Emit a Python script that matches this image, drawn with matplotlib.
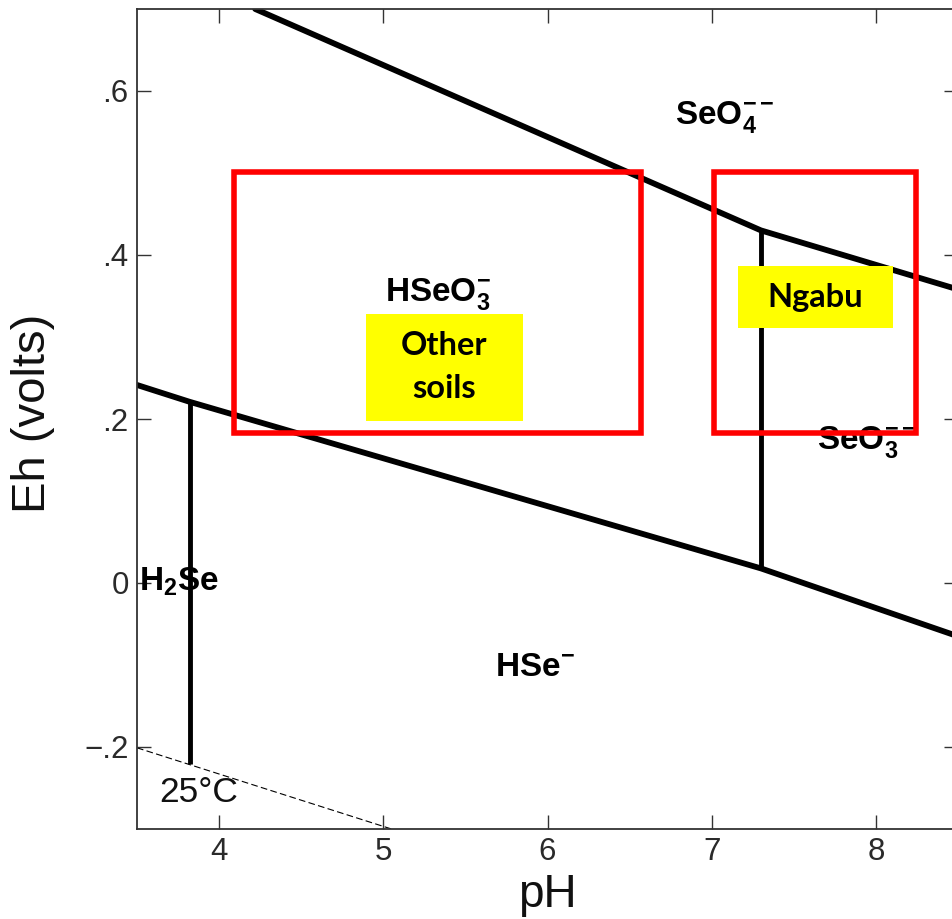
import matplotlib
matplotlib.use("Agg")
import matplotlib.pyplot as plt
from matplotlib.patches import Rectangle

plt.rcParams['font.family'] = ['Liberation Sans', 'DejaVu Sans']
plt.rcParams['mathtext.fontset'] = 'custom'
plt.rcParams['mathtext.rm'] = 'Liberation Sans'
plt.rcParams['mathtext.bf'] = 'Liberation Sans:bold'
plt.rcParams['mathtext.it'] = 'Liberation Sans:italic'

# Stability-field boundaries (pH, Eh in volts)
upper_ph = [4.22, 7.30, 8.50]
upper_eh = [0.700, 0.430, 0.358]
lower_ph = [3.50, 3.82, 7.30, 8.50]
lower_eh = [0.2415, 0.221, 0.0178, -0.065]
h2se_ph = [3.82, 3.82]
h2se_eh = [0.221, -0.2205]
seo3_ph = [7.30, 7.30]
seo3_eh = [0.430, 0.0178]
water_ph = [3.50, 5.05]
water_eh = [-0.201, -0.300]

# Species labels: text, pH, Eh (baseline-left anchor)
species = [
    (r'$\mathbf{SeO_4^{--}}$', 6.775, 0.5597),
    (r'$\mathbf{HSeO_3^{-}}$', 5.009, 0.3444),
    (r'$\mathbf{SeO_3^{--}}$', 7.639, 0.163),
    (r'$\mathbf{H_2Se}$', 3.51, -0.0088),
    (r'$\mathbf{HSe^{-}}$', 5.679, -0.114),
]

# Sampled ranges (pH min, pH max, Eh min, Eh max)
ranges = [
    (4.093, 6.568, 0.1835, 0.501),
    (7.012, 8.247, 0.1835, 0.501),
]
# Highlighted site labels (text, pH min, pH max, Eh min, Eh max)
sites = [
    ("Other\nsoils", 4.894, 5.849, 0.198, 0.3286),
    ("Ngabu", 7.158, 8.107, 0.3105, 0.3867),
]

xticks = [4, 5, 6, 7, 8]
xticklabels = ['4', '5', '6', '7', '8']
yticks = [-0.2, 0.0, 0.2, 0.4, 0.6]
yticklabels = ['\u2212.2', '0', '.2', '.4', '.6']

fig = plt.figure(figsize=(9.52, 9.19), dpi=100)
ax = fig.add_axes([137 / 952, 1 - 829 / 919, (958 - 137) / 952, (829 - 9) / 919])
ax.set_xlim(3.5, 8.5)
ax.set_ylim(-0.3, 0.7)

lw = 4.2
ax.plot(upper_ph, upper_eh, color='black', lw=lw, solid_capstyle='round', solid_joinstyle='round')
ax.plot(lower_ph, lower_eh, color='black', lw=lw, solid_capstyle='round', solid_joinstyle='round')
ax.plot(h2se_ph, h2se_eh, color='black', lw=3.5, solid_capstyle='butt')
ax.plot(seo3_ph, seo3_eh, color='black', lw=3.5, solid_capstyle='butt')
ax.plot(water_ph, water_eh, color='black', lw=0.8, dashes=(6, 3))

for txt, x, y in species:
    ax.text(x, y, txt, fontsize=24, ha='left', va='baseline', color='black', zorder=2)

ax.text(3.634, -0.2665, '25\u00b0C', fontsize=25.5, ha='left', va='baseline', color='#111111')

for x0, x1, y0, y1 in ranges:
    ax.add_patch(Rectangle((x0, y0), x1 - x0, y1 - y0, fill=False,
                           edgecolor='#ff0000', lw=4.0, joinstyle='miter', zorder=3))

for txt, x0, x1, y0, y1 in sites:
    ax.add_patch(Rectangle((x0, y0), x1 - x0, y1 - y0, facecolor='#ffff00',
                           edgecolor='none', zorder=4))
    ax.text((x0 + x1) / 2, (y0 + y1) / 2, txt, fontsize=23.5, fontweight='bold',
            family=['Lato', 'DejaVu Sans'], ha='center', va='center',
            linespacing=1.6, zorder=5)

ax.set_xticks(xticks)
ax.set_xticklabels(xticklabels)
ax.set_yticks(yticks)
ax.set_yticklabels(yticklabels)
ax.tick_params(direction='in', top=True, right=True, length=10, width=1.0,
               labelsize=22.5, pad=6, colors='#333333', labelcolor='#2a2a2a')
for s in ax.spines.values():
    s.set_linewidth(1.3)
    s.set_color('#333333')

ax.set_xlabel('pH', fontsize=33, labelpad=4, color='#111111')
ax.set_ylabel('Eh (volts)', fontsize=34, color='#111111')
ax.yaxis.set_label_coords(-0.0999, 0.507)

fig.savefig('out.png', dpi=100)
